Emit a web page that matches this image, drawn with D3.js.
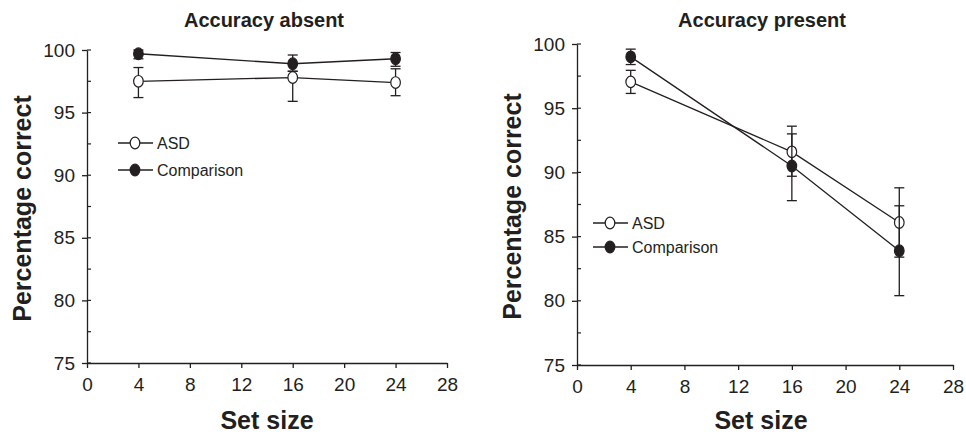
<!DOCTYPE html>
<meta charset="utf-8">
<style>
  body { margin: 0; background: #fff; }
  text { font-family: "Liberation Sans", Arial, sans-serif; fill: #231f20; }
  .title { font-size: 20px; font-weight: bold; text-anchor: middle; }
  .label { font-size: 25px; font-weight: bold; text-anchor: middle; }
  .legend text { font-size: 16px; }
</style>
<svg width="966" height="436"></svg>
<script src="https://d3js.org/d3.v7.min.js"></script>
<script>

var setSizes = [4, 16, 24];
var xTicks = [0, 4, 8, 12, 16, 20, 24, 28];
var yTicks = [75, 80, 85, 90, 95, 100];
var yMinor = [77.5, 82.5, 87.5, 92.5, 97.5];
var groups = ["ASD", "Comparison"];

// accuracy absent
var absentASD = [97.5, 97.8, 97.4];
var absentASDLo = [96.2, 95.9, 96.35];
var absentASDHi = [98.6, 98.3, 98.5];
var absentComp = [99.7, 98.9, 99.3];
var absentCompLo = [99.3, 98.3, 98.7];
var absentCompHi = [100.0, 99.6, 99.8];

// accuracy present
var presentASD = [97.05, 91.6, 86.1];
var presentASDLo = [96.15, 89.7, 83.4];
var presentASDHi = [97.95, 93.6, 88.8];
var presentComp = [99.0, 90.5, 83.9];
var presentCompLo = [98.4, 87.8, 80.4];
var presentCompHi = [99.6, 93.0, 87.4];

var panels = [
  { title: "Accuracy absent", x0: 87, x1: 447, y0: 363, y1: 50, titleX: 264, labelX: 267,
    legendX: 118, legendY: 143, legendStep: 27,
    series: [
      { v: absentASD, lo: absentASDLo, hi: absentASDHi, fill: "#fff" },
      { v: absentComp, lo: absentCompLo, hi: absentCompHi, fill: "#231f20" }
    ] },
  { title: "Accuracy present", x0: 577, x1: 953, y0: 365, y1: 44, titleX: 762, labelX: 761,
    legendX: 593, legendY: 223, legendStep: 24,
    series: [
      { v: presentASD, lo: presentASDLo, hi: presentASDHi, fill: "#fff" },
      { v: presentComp, lo: presentCompLo, hi: presentCompHi, fill: "#231f20" }
    ] }
];

var svg = d3.select("svg");
var ink = "#231f20";

panels.forEach(function(p) {
  var x = d3.scaleLinear().domain([0, 28]).range([p.x0, p.x1]);
  var y = d3.scaleLinear().domain([75, 100]).range([p.y0, p.y1]);
  var g = svg.append("g");

  g.append("g")
      .attr("transform", "translate(0," + p.y0 + ")")
      .call(d3.axisBottom(x).tickValues(xTicks).tickSize(5).tickPadding(10).tickSizeOuter(0));
  g.append("g")
      .attr("transform", "translate(" + p.x0 + ",0)")
      .call(d3.axisLeft(y).tickValues(yTicks).tickSize(5).tickPadding(7).tickSizeOuter(0));
  g.selectAll(".domain, .tick line").attr("stroke", ink).attr("stroke-width", 1.3);
  g.selectAll(".tick text").attr("fill", ink).attr("font-size", 19)
      .attr("font-family", "'Liberation Sans', Arial, sans-serif");

  // inward part of the major ticks, and the minor ticks
  g.append("g").selectAll("line")
    .data(yTicks.concat(yMinor))
    .enter().append("line")
      .attr("x1", p.x0).attr("x2", p.x0 + 4)
      .attr("y1", function(d) { return y(d); })
      .attr("y2", function(d) { return y(d); })
      .attr("stroke", ink).attr("stroke-width", 1.2);

  g.append("text").attr("class", "title").attr("x", p.titleX).attr("y", 27).text(p.title);
  g.append("text").attr("class", "label").attr("x", p.labelX).attr("y", 429).text("Set size");
  g.append("text").attr("class", "label")
      .attr("transform", "translate(" + (p.x0 - 56) + "," + ((p.y0 + p.y1) / 2 + 2) + ") rotate(-90)")
      .text("Percentage correct");

  var line = d3.line()
      .x(function(d, i) { return x(setSizes[i]); })
      .y(function(d) { return y(d); });

  p.series.forEach(function(s) {
    g.append("path")
        .datum(s.v)
        .attr("d", line)
        .attr("fill", "none")
        .attr("stroke", ink)
        .attr("stroke-width", 1.3);

    var eb = g.append("g").attr("stroke", ink).attr("stroke-width", 1.3);
    setSizes.forEach(function(k, i) {
      var cx = x(k);
      eb.append("line").attr("x1", cx).attr("x2", cx).attr("y1", y(s.lo[i])).attr("y2", y(s.hi[i]));
      eb.append("line").attr("x1", cx - 5).attr("x2", cx + 5).attr("y1", y(s.lo[i])).attr("y2", y(s.lo[i]));
      eb.append("line").attr("x1", cx - 5).attr("x2", cx + 5).attr("y1", y(s.hi[i])).attr("y2", y(s.hi[i]));
    });

    g.append("g").selectAll("ellipse")
      .data(s.v)
      .enter().append("ellipse")
        .attr("cx", function(d, i) { return x(setSizes[i]); })
        .attr("cy", function(d) { return y(d); })
        .attr("rx", 4.8).attr("ry", 5.8)
        .attr("fill", s.fill)
        .attr("stroke", ink).attr("stroke-width", 1.2);
  });

  var lg = g.append("g").attr("class", "legend");
  p.series.forEach(function(s, i) {
    var ly = p.legendY + i * p.legendStep;
    lg.append("line").attr("x1", p.legendX).attr("x2", p.legendX + 35)
        .attr("y1", ly).attr("y2", ly).attr("stroke", ink).attr("stroke-width", 1.3);
    lg.append("ellipse").attr("cx", p.legendX + 17).attr("cy", ly)
        .attr("rx", 4.8).attr("ry", 5.8).attr("fill", s.fill)
        .attr("stroke", ink).attr("stroke-width", 1.2);
    lg.append("text").attr("x", p.legendX + 39).attr("y", ly + 6).text(groups[i]);
  });
});

</script>
